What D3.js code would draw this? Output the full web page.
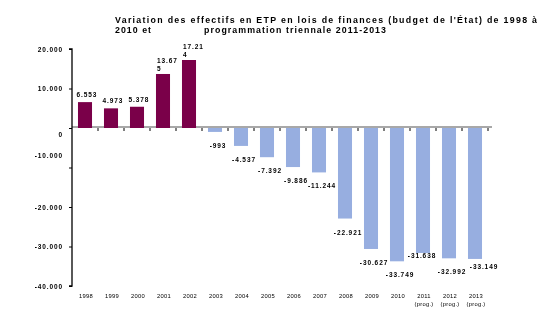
<!DOCTYPE html>
<html>
<head>
<meta charset="utf-8">
<script src="https://cdnjs.cloudflare.com/ajax/libs/d3/7.8.5/d3.min.js"></script>
<style>
  body { margin: 0; background: #fff; }
  svg { display: block; font-family: "Liberation Sans", Arial, sans-serif; }
</style>
</head>
<body>
<div id="chart"></div>
<script>
/** chart data */
const years = ["1998", "1999", "2000", "2001", "2002", "2003", "2004", "2005",
               "2006", "2007", "2008", "2009", "2010", "2011", "2012", "2013"];
const subLabels = ["", "", "", "", "", "", "", "", "", "", "", "", "", "(prog.)", "(prog.)", "(prog.)"];
const values = [6553, 4973, 5378, 13675, 17214, -993, -4537, -7392,
                -9886, -11244, -22921, -30627, -33749, -31638, -32992, -33149];
const yTicks = [20000, 10000, 0, -10000, -20000, -30000, -40000];
const titleLine1 = "Variation des effectifs en ETP en lois de finances (budget de l'État) de 1998 à";
const titleLine2a = "2010 et";
const titleLine2b = "programmation triennale 2011-2013";

/** small layout nudges for labels, as placed in the original */
const labelNudge = { "2011": [-4, -11], "2013": [6, -6] };
const tickNudge = { "0": 6, "-10000": -12 };

const width = 547, height = 324;
const plotLeft = 72, plotTop = 49, plotBottom = 286, band = 26;

const svg = d3.select('#chart').append('svg')
    .attr('width', width)
    .attr('height', height);

/** title */
let title = svg.append('g')
    .style('font-size', '8.8px').style('font-weight', 'bold');
title.append('text')
    .attr('x', 115).attr('y', 23)
    .attr('textLength', 422).attr('lengthAdjust', 'spacing')
    .text(titleLine1);
title.append('text')
    .attr('x', 115).attr('y', 32.5)
    .attr('textLength', 36).attr('lengthAdjust', 'spacing')
    .text(titleLine2a);
title.append('text')
    .attr('x', 204).attr('y', 32.5)
    .attr('textLength', 182).attr('lengthAdjust', 'spacing')
    .text(titleLine2b);

/** scales */
let xScale = d3.scaleBand()
    .domain(years)
    .range([plotLeft, plotLeft + band * years.length])
    .paddingInner(0.46)
    .paddingOuter(0.23);

let yScale = d3.scaleLinear()
    .domain([-40000, 20000])
    .range([plotBottom, plotTop]);

const locale = d3.formatLocale({ decimal: ",", thousands: ".", grouping: [3], currency: ["", ""], minus: "-" });
const fmt = locale.format(",d");
const y0 = yScale(0);

/** negative bars go under the baseline, positive bars over it */
svg.append('g').selectAll('rect')
    .data(values.map((v, i) => ({ year: years[i], v })).filter(d => d.v < 0))
    .enter().append('rect')
    .attr('x', d => xScale(d.year))
    .attr('width', xScale.bandwidth())
    .attr('y', y0)
    .attr('height', d => yScale(d.v) - y0)
    .attr('fill', '#97aee0');

svg.append('line')
    .attr('x1', plotLeft).attr('x2', plotLeft + band * years.length + 4)
    .attr('y1', y0 - 1).attr('y2', y0 - 1)
    .attr('stroke', '#a8a8a8').attr('stroke-width', 2)
    .style('mix-blend-mode', 'multiply');

svg.append('g').selectAll('rect')
    .data(values.map((v, i) => ({ year: years[i], v })).filter(d => d.v >= 0))
    .enter().append('rect')
    .attr('x', d => xScale(d.year))
    .attr('width', xScale.bandwidth())
    .attr('y', d => yScale(d.v))
    .attr('height', d => y0 - yScale(d.v))
    .attr('fill', '#7a0049');

/** small ticks between categories on the baseline */
svg.append('g').selectAll('line')
    .data(years)
    .enter().append('line')
    .attr('x1', (d, i) => plotLeft + band * (i + 1))
    .attr('x2', (d, i) => plotLeft + band * (i + 1))
    .attr('y1', y0).attr('y2', y0 + 3)
    .attr('stroke', '#000').attr('stroke-width', 1);

/** y axis */
let yAxis = d3.axisLeft(yScale)
    .tickValues(yTicks)
    .tickSize(3)
    .tickPadding(6)
    .tickFormat(fmt);

let yG = svg.append('g')
    .attr('transform', `translate(${plotLeft}, 0)`)
    .call(yAxis);
yG.select('.domain').attr('stroke', '#000').attr('stroke-width', 1.3)
    .attr('d', `M-3,${plotTop}H0V${plotBottom}H-3`);
yG.selectAll('.tick line').attr('stroke', '#000');
yG.selectAll('.tick text')
    .style('font-size', '6.5px').style('font-weight', 'bold').style('letter-spacing', '0.9px')
    .attr('fill', '#000')
    .attr('dy', d => (0.32 + (tickNudge[d] || 0) / 6.5) + 'em');

/** x axis labels */
let xAxis = d3.axisBottom(xScale).tickSize(0).tickPadding(0);
let xG = svg.append('g')
    .attr('transform', 'translate(1, 294)')
    .call(xAxis);
xG.select('.domain').remove();
xG.selectAll('.tick text')
    .style('font-size', '5.8px').style('letter-spacing', '0.3px')
    .attr('fill', '#000')
    .each(function (d, i) {
        if (subLabels[i]) {
            d3.select(this).append('tspan')
                .attr('x', 0).attr('dy', '1.4em')
                .text(subLabels[i]);
        }
    });

/** value labels */
const labelG = svg.append('g')
    .style('font-size', '6.5px').style('font-weight', 'bold').style('letter-spacing', '0.9px');

values.forEach(function (v, i) {
    const year = years[i];
    const cx = xScale(year) + xScale.bandwidth() / 2;
    const nudge = labelNudge[year] || [0, 0];
    const txt = fmt(v);
    if (v >= 0) {
        if (txt.length > 5) {
            /** the long labels wrap as in the original */
            const t = labelG.append('text')
                .attr('x', xScale(year) + 1)
                .attr('y', yScale(v) - 11);
            t.append('tspan').text(txt.slice(0, 5));
            t.append('tspan').attr('x', xScale(year) + 1).attr('dy', 8).text(txt.slice(5));
        } else {
            labelG.append('text')
                .attr('x', cx + 2)
                .attr('y', yScale(v) - 5)
                .attr('text-anchor', 'middle')
                .text(txt);
        }
    } else {
        labelG.append('text')
            .attr('x', cx + 3 + nudge[0])
            .attr('y', yScale(v) + 16 + nudge[1])
            .attr('text-anchor', 'middle')
            .text(txt);
    }
});
</script>
</body>
</html>
